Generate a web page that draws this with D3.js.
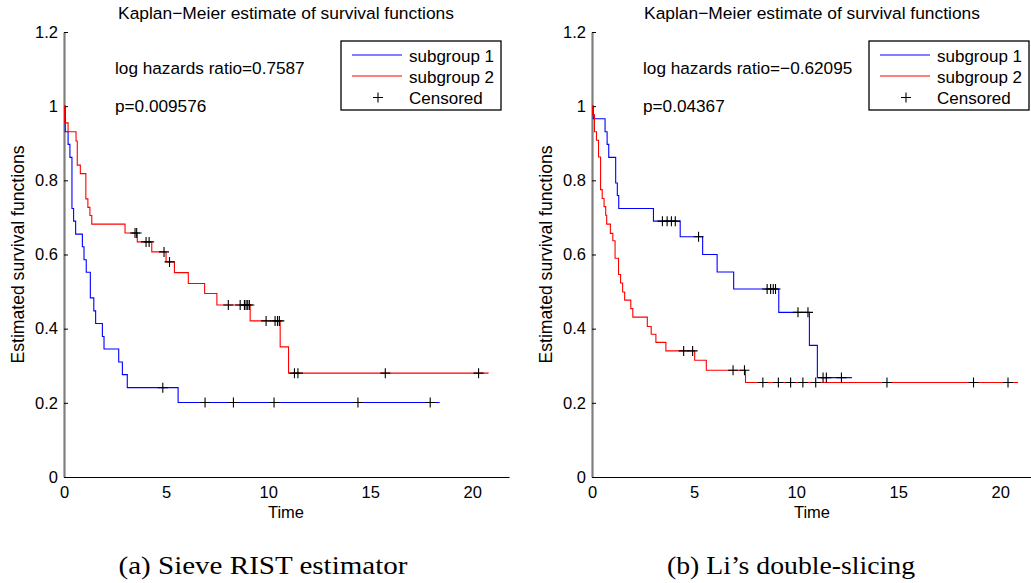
<!DOCTYPE html>
<html><head><meta charset="utf-8">
<script src="https://cdn.jsdelivr.net/npm/d3@7"></script>
<style>body{margin:0;background:#fff}svg{display:block}</style>
</head><body>
<svg id="c" width="1031" height="583"></svg>
<script>
// ---------- data ----------
const xTicks = [0, 5, 10, 15, 20];
const yTicks = [0, 0.2, 0.4, 0.6, 0.8, 1, 1.2];
const yTickLabels = ["0", "0.2", "0.4", "0.6", "0.8", "1", "1.2"];
const seriesNames = ["subgroup 1", "subgroup 2", "Censored"];
const titleText = "Kaplan\u2212Meier estimate of survival functions";

// Panel (a) Sieve RIST estimator
const a1Times = [0.06, 0.2, 0.29, 0.39, 0.47, 0.57, 0.9, 0.98, 1.09, 1.29, 1.46, 1.55, 1.88, 1.96, 2.68, 2.86, 3.1, 5.59];
const a1Surv  = [0.931, 0.897, 0.862, 0.724, 0.690, 0.655, 0.621, 0.586, 0.552, 0.483, 0.448, 0.414, 0.379, 0.345, 0.310, 0.276, 0.241, 0.201];
const a1Censor = [4.84, 6.91, 8.3, 10.29, 14.4, 17.94];
const a1End = 18.4;
const a2Times = [0.03, 0.2, 0.59, 0.65, 0.8, 1.07, 1.17, 1.27, 1.36, 2.99, 3.59, 4.3, 5.0, 5.41, 6.09, 6.89, 7.49, 9.12, 10.59, 11.0];
const a2Surv  = [0.955, 0.931, 0.906, 0.841, 0.818, 0.750, 0.727, 0.705, 0.682, 0.658, 0.634, 0.607, 0.580, 0.551, 0.522, 0.495, 0.464, 0.421, 0.351, 0.280];
const a2Censor = [3.48, 3.56, 4.02, 4.17, 4.9, 5.17, 8.05, 8.63, 8.84, 8.92, 9.0, 9.08, 9.9, 10.34, 10.46, 10.55, 11.29, 11.46, 15.74, 20.31];
const a2End = 20.8;
const aNotes = ["log hazards ratio=0.7587", "p=0.009576"];
const aCaption = "(a) Sieve RIST estimator";

// Panel (b) Li's double-slicing
const b1Times = [0.06, 0.64, 0.74, 0.82, 1.16, 1.24, 1.31, 3.01, 4.32, 5.42, 6.13, 6.94, 9.15, 10.65, 11.04];
const b1Surv  = [0.966, 0.931, 0.897, 0.862, 0.793, 0.759, 0.724, 0.690, 0.648, 0.600, 0.553, 0.507, 0.444, 0.355, 0.268];
const b1Censor = [3.45, 3.68, 3.89, 4.08, 5.22, 8.58, 8.75, 8.88, 8.99, 10.09, 10.58, 11.32, 11.48, 12.22];
const b1End = 12.73;
const b2Times = [0.03, 0.12, 0.22, 0.32, 0.42, 0.5, 0.59, 0.67, 0.72, 0.9, 1.02, 1.13, 1.3, 1.4, 1.5, 1.6, 1.9, 2.0, 2.71, 2.9, 3.13, 3.62, 5.03, 5.6, 7.52];
const b2Surv  = [0.977, 0.931, 0.908, 0.863, 0.775, 0.751, 0.729, 0.706, 0.682, 0.657, 0.637, 0.590, 0.546, 0.523, 0.499, 0.477, 0.454, 0.431, 0.406, 0.385, 0.363, 0.340, 0.315, 0.288, 0.255];
const b2Censor = [4.49, 4.93, 6.91, 7.47, 8.37, 9.13, 9.73, 10.33, 10.96, 14.45, 18.69, 20.38];
const b2End = 20.87;
const bNotes = ["log hazards ratio=\u22120.62095", "p=0.04367"];
const bCaption = "(b) Li\u2019s double-slicing";

// ---------- drawing ----------
const svg = d3.select("#c");
const FONT = "'Liberation Sans', Arial, Helvetica, sans-serif";
const SERIF = "'Liberation Serif', 'Times New Roman', serif";
const yScale = d3.scaleLinear().domain([0, 1.2]).range([477, 32]);

function panel(cfg) {
  const x = d3.scaleLinear().domain([0, 21.8]).range([cfg.x0, cfg.x0 + 445]);
  const y = yScale;
  const g = svg.append("g");

  // title
  g.append("text").attr("x", cfg.titleX).attr("y", 19).attr("text-anchor", "middle")
    .style("font", "17.4px " + FONT).text(titleText);

  // x axis
  const xa = g.append("g").attr("transform", `translate(0,${y(0)})`)
    .call(d3.axisBottom(x).tickValues(xTicks).tickSize(0).tickPadding(9).tickFormat(d3.format("d")));
  xa.select(".domain").attr("stroke", "#000").attr("stroke-width", 1.2);
  xa.selectAll("text").style("font", "16.5px " + FONT).attr("fill", "#000");

  // y axis
  const ya = g.append("g").attr("transform", `translate(${cfg.x0},0)`)
    .call(d3.axisLeft(y).tickValues(yTicks).tickSizeInner(-4).tickSizeOuter(0).tickPadding(6)
      .tickFormat((d, i) => yTickLabels[i]));
  ya.select(".domain").attr("stroke", "#7f7f7f").attr("stroke-width", 2.2);
  ya.selectAll(".tick line").attr("stroke", "#000");
  ya.selectAll("text").style("font", "16.5px " + FONT).attr("fill", "#000");

  // axis labels
  g.append("text").attr("x", cfg.titleX).attr("y", 518).attr("text-anchor", "middle")
    .style("font", "16.5px " + FONT).text("Time");
  g.append("text").attr("transform", `translate(${cfg.x0 - 46},${(y(0) + y(1.2)) / 2}) rotate(-90)`)
    .attr("text-anchor", "middle").attr("dy", "0.35em")
    .style("font", "17.6px " + FONT).text("Estimated survival functions");

  // curves
  cfg.series.forEach(s => {
    const pts = [[0, 1]];
    let prev = 1;
    s.times.forEach((t, i) => { pts.push([t, prev]); pts.push([t, s.surv[i]]); prev = s.surv[i]; });
    pts.push([s.end, prev]);
    g.append("path").datum(pts)
      .attr("d", d3.line().x(d => x(d[0])).y(d => y(d[1])))
      .attr("fill", "none").attr("stroke", s.color).attr("stroke-width", 1.1);
  });
  // censor marks
  cfg.series.forEach(s => {
    const sv = t => { const i = d3.bisectRight(s.times, t); return i === 0 ? 1 : s.surv[i - 1]; };
    g.selectAll(null).data(s.censor).enter().append("path")
      .attr("d", t => { const cx = x(t), cy = y(sv(t)); return `M${cx - 5},${cy}H${cx + 5}M${cx},${cy - 5}V${cy + 5}`; })
      .attr("stroke", "#000").attr("stroke-width", 1.1).attr("fill", "none");
  });

  // notes
  g.append("text").attr("x", cfg.noteX).attr("y", 74).style("font", "17.2px " + FONT).text(cfg.notes[0]);
  g.append("text").attr("x", cfg.noteX).attr("y", 112).style("font", "17.2px " + FONT).text(cfg.notes[1]);

  // legend
  const lg = g.append("g").attr("transform", `translate(${cfg.legX},41)`);
  lg.append("rect").attr("x", 0).attr("y", 0).attr("width", 160).attr("height", 69)
    .attr("fill", "#fff").attr("stroke", "#000").attr("stroke-width", 1.3);
  const cols = ["#0000ff", "#ff0000"];
  [0, 1].forEach(i => {
    lg.append("line").attr("x1", 11).attr("x2", 61).attr("y1", 14 + 21 * i).attr("y2", 14 + 21 * i)
      .attr("stroke", cols[i]).attr("stroke-width", 1.1);
  });
  lg.append("path").attr("d", "M32,56.5H42M37,51.5V61.5").attr("stroke", "#000").attr("stroke-width", 1.1);
  seriesNames.forEach((n, i) => {
    lg.append("text").attr("x", 68).attr("y", 20.5 + 21 * i).style("font", "17px " + FONT).text(n);
  });

  // caption
  svg.append("text").attr("x", cfg.capX).attr("y", 574).attr("text-anchor", "middle")
    .attr("textLength", cfg.capW).attr("lengthAdjust", "spacingAndGlyphs")
    .style("font", "25px " + SERIF).text(cfg.caption);
}

panel({
  x0: 64, titleX: 286, noteX: 115, legX: 341, capX: 263, capW: 289, notes: aNotes, caption: aCaption,
  series: [
    {times: a1Times, surv: a1Surv, censor: a1Censor, end: a1End, color: "#0000ff"},
    {times: a2Times, surv: a2Surv, censor: a2Censor, end: a2End, color: "#ff0000"}
  ]
});
panel({
  x0: 592, titleX: 812, noteX: 643, legX: 869, capX: 791, capW: 248, notes: bNotes, caption: bCaption,
  series: [
    {times: b1Times, surv: b1Surv, censor: b1Censor, end: b1End, color: "#0000ff"},
    {times: b2Times, surv: b2Surv, censor: b2Censor, end: b2End, color: "#ff0000"}
  ]
});
</script>
</body></html>
